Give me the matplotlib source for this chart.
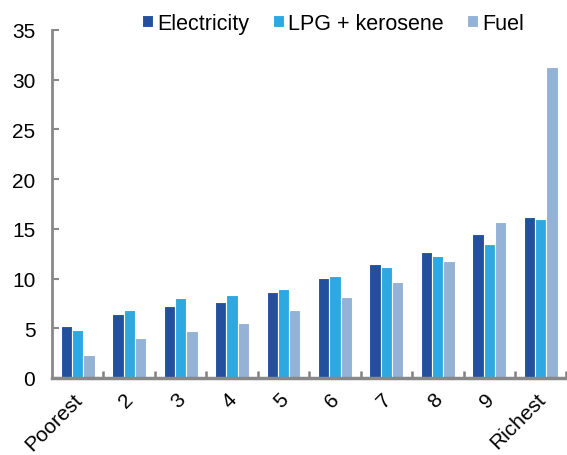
import matplotlib
matplotlib.use("Agg")
import matplotlib.pyplot as plt
import numpy as np

categories = ["Poorest", "2", "3", "4", "5", "6", "7", "8", "9", "Richest"]
electricity = [5.2, 6.4, 7.2, 7.6, 8.6, 10.1, 11.5, 12.7, 14.5, 16.2]
lpg_kerosene = [4.8, 6.8, 8.0, 8.3, 9.0, 10.3, 11.2, 12.3, 13.5, 16.0]
fuel = [2.3, 4.0, 4.7, 5.5, 6.8, 8.1, 9.7, 11.8, 15.7, 31.3]
series_names = ["Electricity", "LPG + kerosene", "Fuel"]
colors = ["#22509C", "#2EA8E0", "#94B1D6"]
yticks = [0, 5, 10, 15, 20, 25, 30, 35]

plt.rcParams['font.family'] = ['Liberation Sans', 'DejaVu Sans']

fig = plt.figure(figsize=(5.67, 4.56), dpi=100)
ax = fig.add_axes([52/567, 1-379/456, 1-52/567 - 0.001, (379-31)/456])

x = np.arange(len(categories))
w = 0.22
handles = []
for i, (vals, name, c) in enumerate(zip([electricity, lpg_kerosene, fuel], series_names, colors)):
    b = ax.bar(x + (i-1)*w, vals, width=w, color=c, edgecolor="white", linewidth=0.8, label=name)
    handles.append(b)

ax.set_xlim(-0.5, len(categories)-0.5)
ax.set_ylim(0, 35)
ax.set_yticks(yticks)
ax.set_yticklabels([str(t) for t in yticks], fontsize=15)
# label anchors sit slightly left of the group centres (invisible major ticks)
ax.set_xticks(x - 0.1)
ax.set_xticklabels(categories, rotation=45, ha='right', rotation_mode='anchor', fontsize=15)
ax.tick_params(axis='x', length=0, pad=8)
ax.set_xticks(np.arange(len(categories)) + 0.5, minor=True)
ax.tick_params(axis='x', which='minor', direction='in', length=5, width=1.8, color='#808080')
ax.tick_params(axis='y', direction='in', length=5, width=1.5, color='#888888', pad=12)

for s in ['top', 'right']:
    ax.spines[s].set_visible(False)
ax.spines['left'].set_color('#888888')
ax.spines['left'].set_linewidth(2)
ax.spines['bottom'].set_color('#888888')
ax.spines['bottom'].set_linewidth(2.5)

leg = fig.legend(handles=handles, labels=series_names, loc='upper left', bbox_to_anchor=(128/567, 1.0),
                 ncol=3, frameon=False, fontsize=15.5, handlelength=0.5, handleheight=0.5,
                 handletextpad=0.2, columnspacing=1.1, borderaxespad=0.25)

fig.savefig("out.png", dpi=100)
